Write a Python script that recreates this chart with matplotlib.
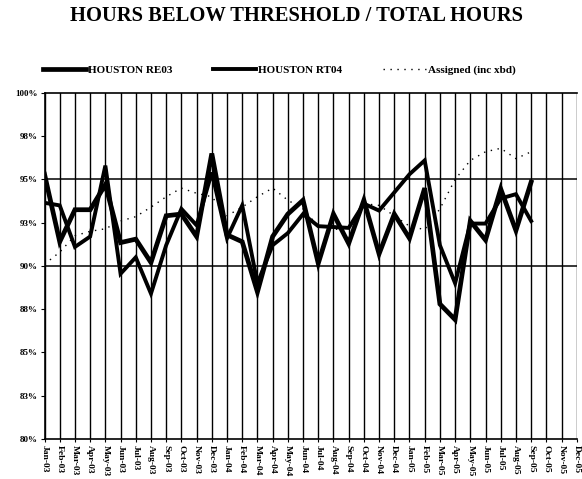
import matplotlib
matplotlib.use("Agg")
import matplotlib.pyplot as plt
import numpy as np

months = ["Jan-03","Feb-03","Mar-03","Apr-03","May-03","Jun-03","Jul-03","Aug-03","Sep-03","Oct-03","Nov-03","Dec-03",
          "Jan-04","Feb-04","Mar-04","Apr-04","May-04","Jun-04","Jul-04","Aug-04","Sep-04","Oct-04","Nov-04","Dec-04",
          "Jan-05","Feb-05","Mar-05","Apr-05","May-05","Jun-05","Jul-05","Aug-05","Sep-05","Oct-05","Nov-05","Dec-05"]

re03 = [95.3, 91.4, 93.25, 93.25, 94.7, 91.35, 91.55, 90.2, 92.9, 93.0, 91.7, 96.5,
        91.8, 91.4, 88.5, 91.7, 93.0, 93.8, 90.15, 93.0, 91.3, 93.8, 90.7, 93.0,
        91.6, 94.5, 87.8, 86.9, 92.6, 91.5, 94.45, 92.05, 94.85]
rt04 = [93.65, 93.5, 91.1, 91.7, 95.8, 89.55, 90.5, 88.4, 91.2, 93.3, 92.35, 95.4,
        91.6, 93.5, 89.0, 91.2, 91.9, 93.0, 92.3, 92.25, 92.2, 93.6, 93.2, 94.25,
        95.3, 96.1, 91.2, 89.0, 92.45, 92.45, 93.9, 94.15, 92.6]
assigned = [90.1, 90.8, 91.75, 92.0, 92.15, 92.6, 92.85, 93.4, 94.0, 94.5, 94.2, 94.0,
            92.9, 93.4, 94.0, 94.5, 93.8, 93.3, 92.3, 92.1, 92.2, 93.6, 93.5, 92.9,
            92.3, 92.1, 93.3, 95.0, 96.1, 96.6, 96.8, 96.2, 96.6]

y_ticks = [80, 82.5, 85, 87.5, 90, 92.5, 95, 97.5, 100]
y_labels = ["80%", "83%", "85%", "88%", "90%", "93%", "95%", "98%", "100%"]

serif = ["Liberation Serif", "DejaVu Serif"]

fig = plt.figure(figsize=(5.82, 4.79), dpi=100)
ax = fig.add_axes([0.0765, 0.0835, 0.9145, 0.7225])

x = np.arange(len(months))
for xi in x:
    ax.axvline(xi, color="black", lw=1.0, zorder=1)
for yv in [90, 95]:
    ax.axhline(yv, color="black", lw=1.1, zorder=1)

ax.plot(np.arange(len(assigned)), assigned, color="black", lw=1.0, ls=(0, (1, 4)), zorder=2,
        label="Assigned (inc xbd)")
ax.plot(np.arange(len(re03)), re03, color="black", lw=3.4, zorder=3, solid_joinstyle="miter",
        label="HOUSTON RE03")
ax.plot(np.arange(len(rt04)), rt04, color="black", lw=2.8, zorder=3, solid_joinstyle="miter",
        label="HOUSTON RT04")

ax.set_xlim(0, len(months) - 1)
ax.set_ylim(80, 100)
ax.set_yticks(y_ticks)
ax.set_yticklabels(y_labels, fontfamily=serif, fontweight="bold", fontsize=6.5)
ax.set_xticks(x)
ax.set_xticklabels(months, rotation=270, fontfamily=serif, fontweight="bold", fontsize=6.8)
ax.tick_params(axis="y", length=3, width=0.8, pad=2)
ax.tick_params(axis="x", length=2, width=0.8, pad=2)
for s in ax.spines.values():
    s.set_linewidth(1.2)
ax.spines["right"].set_visible(False)

handles, labels = ax.get_legend_handles_labels()
order = [1, 2, 0]
fig.legend([handles[i] for i in order], [labels[i] for i in order],
           loc="center", bbox_to_anchor=(0.48, 0.853), ncol=3, frameon=False,
           prop={"family": serif, "weight": "bold", "size": 8}, handlelength=3.9,
           handletextpad=0.2, columnspacing=3.6)

fig.text(0.51, 0.966, "HOURS BELOW THRESHOLD / TOTAL HOURS", ha="center", va="center",
         fontfamily=serif, fontweight="bold", fontsize=14.8)

fig.savefig("out.png", dpi=100)
